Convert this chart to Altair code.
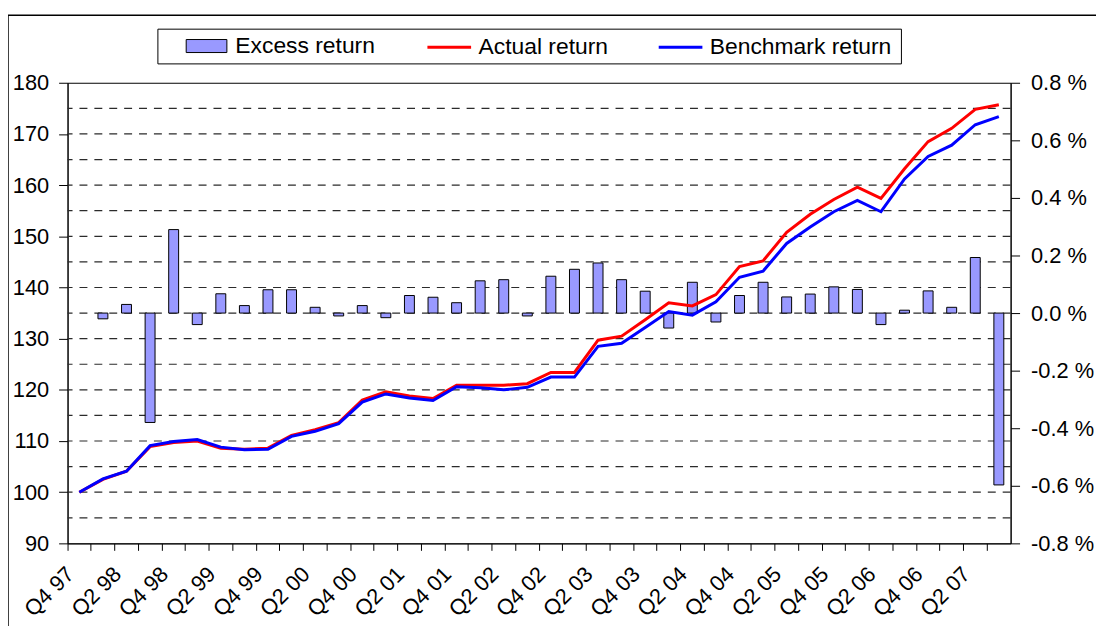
import altair as alt
import pandas as pd

# ---------------- data ----------------
quarters = [
    "Q4 97", "Q1 98", "Q2 98", "Q3 98", "Q4 98", "Q1 99", "Q2 99", "Q3 99",
    "Q4 99", "Q1 00", "Q2 00", "Q3 00", "Q4 00", "Q1 01", "Q2 01", "Q3 01",
    "Q4 01", "Q1 02", "Q2 02", "Q3 02", "Q4 02", "Q1 03", "Q2 03", "Q3 03",
    "Q4 03", "Q1 04", "Q2 04", "Q3 04", "Q4 04", "Q1 05", "Q2 05", "Q3 05",
    "Q4 05", "Q1 06", "Q2 06", "Q3 06", "Q4 06", "Q1 07", "Q2 07", "Q3 07",
]

actual_return = [
    100.0, 102.5, 104.1, 108.9, 109.7, 110.0, 108.6, 108.4,
    108.6, 111.1, 112.2, 113.6, 118.0, 119.6, 118.8, 118.3,
    120.9, 120.9, 120.9, 121.2, 123.4, 123.4, 129.7, 130.5,
    133.7, 137.0, 136.4, 138.6, 144.1, 145.2, 150.8, 154.3,
    157.2, 159.6, 157.4, 163.2, 168.5, 171.1, 174.8, 175.7,
]

benchmark_return = [
    100.0, 102.6, 104.1, 109.1, 109.9, 110.3, 108.8, 108.3,
    108.4, 110.9, 111.9, 113.4, 117.6, 119.2, 118.4, 117.9,
    120.6, 120.4, 120.0, 120.5, 122.5, 122.5, 128.5, 129.1,
    132.2, 135.3, 134.6, 137.2, 142.0, 143.2, 148.6, 151.8,
    154.8, 157.0, 154.8, 161.2, 165.6, 167.8, 171.8, 173.4,
]

excess_return = [
    None, -0.02, 0.03, -0.38, 0.29, -0.04, 0.067, 0.026,
    0.081, 0.081, 0.02, -0.01, 0.026, -0.016, 0.061, 0.055,
    0.036, 0.112, 0.116, -0.01, 0.128, 0.152, 0.174, 0.116,
    0.076, -0.052, 0.107, -0.031, 0.061, 0.107, 0.056, 0.066,
    0.091, 0.082, -0.04, 0.01, 0.077, 0.02, 0.193, -0.597,
]

series_names = ["Excess return", "Actual return", "Benchmark return"]
series_colors = ["#9999FF", "#FF0000", "#0000FF"]

left_ticks = [90, 100, 110, 120, 130, 140, 150, 160, 170, 180]
right_ticks = [-0.8, -0.6, -0.4, -0.2, 0.0, 0.2, 0.4, 0.6, 0.8]
grid_levels = [95, 100, 105, 110, 115, 120, 125, 130, 135, 140,
               145, 150, 155, 160, 165, 170, 175]

# ---------------- tables ----------------
bars_df = pd.DataFrame({
    "quarter": quarters,
    "excess": excess_return,
    "series": [series_names[0]] * len(quarters),
})
lines_df = pd.DataFrame({
    "quarter": quarters + quarters,
    "value": actual_return + benchmark_return,
    "series": [series_names[1]] * len(quarters) + [series_names[2]] * len(quarters),
})
grid_df = pd.DataFrame({"level": grid_levels})
deco_df = pd.DataFrame({"k": [0]})

FONT = "Liberation Sans"

x_enc = alt.X(
    "quarter:N",
    sort=quarters,
    title=None,
    scale=alt.Scale(domain=quarters, paddingInner=0, paddingOuter=0),
    axis=alt.Axis(
        bandPosition=0,
        labelAngle=-45,
        labelAlign="right",
        labelBaseline="top",
        labelExpr="(substring(datum.label,0,2)=='Q1' || substring(datum.label,0,2)=='Q3') ? '' : datum.label",
        labelOverlap=False,
        labelFontSize=22,
        labelOffset=-16,
        labelPadding=13,
        tickSize=7,
        grid=False,
    ),
)

frame = alt.Chart(deco_df).mark_rect(
    fillOpacity=0, stroke="black", strokeWidth=1.5
).encode(
    x=alt.value(-60), x2=alt.value(1100), y=alt.value(-68), y2=alt.value(640)
)

grid = alt.Chart(grid_df).mark_rule(
    color="#2b2b2b", strokeWidth=1.2, strokeDash=[8, 7]
).encode(
    y=alt.Y("level:Q", scale=alt.Scale(domain=[90, 180], nice=False, zero=False), axis=None)
)

bars = alt.Chart(bars_df).mark_bar(size=10, stroke="black", strokeWidth=1).encode(
    x=x_enc,
    y=alt.Y(
        "excess:Q",
        scale=alt.Scale(domain=[-0.8, 0.8], nice=False, zero=False),
        axis=alt.Axis(
            orient="right",
            values=right_ticks,
            title=None,
            grid=False,
            tickSize=9,
            labelPadding=11,
            labelFontSize=22,
            labelExpr="(datum.value < 0 ? '-' : '') + format(abs(datum.value), '.1f') + ' %'",
        ),
    ),
    fill=alt.Fill(
        "series:N",
        scale=alt.Scale(domain=series_names[:1], range=series_colors[:1]),
        legend=alt.Legend(
            title=None,
            orient="none",
            legendX=119,
            legendY=-58,
            symbolType="M-1,-0.32H1V0.32H-1Z",
            symbolSize=1681,
            symbolStrokeColor="black",
            symbolStrokeWidth=1,
            labelFontSize=23,
            labelOffset=8,
            labelLimit=400,
            padding=0,
        ),
    ),
)

lines = alt.Chart(lines_df).mark_line(strokeWidth=3).encode(
    x=x_enc,
    y=alt.Y(
        "value:Q",
        scale=alt.Scale(domain=[90, 180], nice=False, zero=False),
        axis=alt.Axis(
            orient="left",
            values=left_ticks,
            title=None,
            grid=False,
            tickSize=9,
            labelPadding=10,
            labelFontSize=22,
        ),
    ),
    color=alt.Color(
        "series:N",
        sort=series_names[1:],
        scale=alt.Scale(domain=series_names[1:], range=series_colors[1:]),
        legend=alt.Legend(
            title=None,
            orient="none",
            direction="horizontal",
            legendX=361,
            legendY=-59.5,
            symbolType="stroke",
            symbolSize=1936,
            symbolStrokeWidth=3,
            labelFontSize=23,
            labelOffset=6,
            labelLimit=400,
            columnPadding=44,
            padding=0,
        ),
    ),
)

legend_box = alt.Chart(deco_df).mark_rect(
    fill="white", stroke="black", strokeWidth=1
).encode(
    x=alt.value(91), x2=alt.value(840), y=alt.value(-54), y2=alt.value(-19)
)

chart = (
    alt.layer(frame, grid, bars, lines, legend_box)
    .resolve_scale(y="independent")
    .properties(
        width=950,
        height=464,
        padding={"left": 60, "top": 73, "right": 86, "bottom": 92},
        autosize=alt.AutoSizeParams(type="none"),
        background="white",
    )
    .configure_view(stroke="black", strokeWidth=1)
    .configure_axis(
        labelFont=FONT,
        labelColor="black",
        domainColor="black",
        tickColor="black",
        domainWidth=1,
        tickWidth=1,
    )
    .configure_legend(labelFont=FONT, labelColor="black")
)

chart.save("out.html", embed_options={"renderer": "svg", "actions": False})
